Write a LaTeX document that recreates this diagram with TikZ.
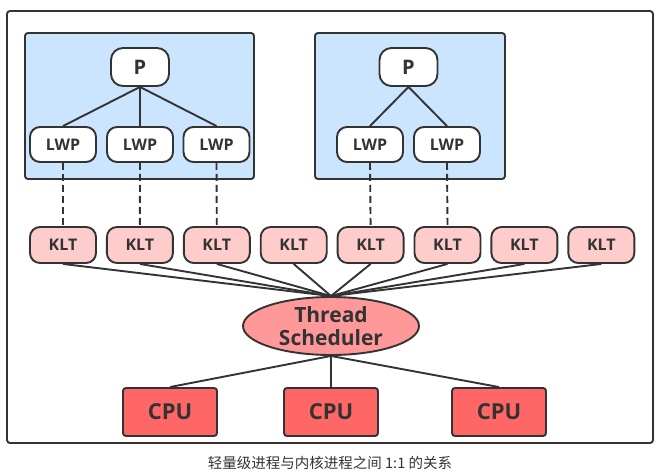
\documentclass[tikz,border=0pt]{standalone}
\usepackage{fontspec}
\setmainfont{Open Sans}
\newfontfamily\cjkfont{Noto Sans CJK SC}
\usepackage{xcolor}
\usetikzlibrary{shapes,arrows,positioning,backgrounds,fit}

\definecolor{linegray}{HTML}{333333}
\definecolor{procblue}{HTML}{CCE5FF}
\definecolor{kltpink}{HTML}{FFCCCC}
\definecolor{schedred}{HTML}{FF9999}
\definecolor{cpured}{HTML}{FF6666}

\tikzset{
    procbox/.style={draw=linegray, fill=procblue, rounded corners=3pt},
    proc/.style={draw=linegray, fill=white, rounded corners=12pt, inner sep=0pt,
        minimum width=58pt, minimum height=38pt, text=linegray,
        font=\bfseries\fontsize{20}{22}\selectfont},
    lwp/.style={draw=linegray, fill=white, rounded corners=10pt, inner sep=0pt,
        minimum width=66pt, minimum height=35pt, text=linegray,
        font=\bfseries\fontsize{16}{18}\selectfont},
    klt/.style={draw=linegray, fill=kltpink, rounded corners=10pt, inner sep=0pt,
        minimum width=66pt, minimum height=36pt, text=linegray,
        font=\bfseries\fontsize{16}{18}\selectfont},
    sched/.style={draw=linegray, fill=schedred, ellipse, inner sep=0pt,
        minimum width=176pt, minimum height=58pt, text=linegray, align=center,
        font=\bfseries\fontsize{21}{23}\selectfont},
    cpu/.style={draw=linegray, fill=cpured, rounded corners=3pt, inner sep=0pt,
        minimum width=94pt, minimum height=48pt, text=linegray,
        font=\bfseries\fontsize{22}{24}\selectfont},
    link/.style={draw=linegray},
    maplink/.style={draw=linegray, dash pattern=on 7pt off 4pt}
}

\begin{document}
\begin{tikzpicture}[x=1pt, y=-1pt, line width=1.9pt]
    \useasboundingbox (0,0) rectangle (667,476);
    \begin{scope}
        % Outer frame
        \draw [linegray, rounded corners=3pt] (7,11) rectangle (653,443);

        % Process boxes
        \draw [procbox] (25,33) rectangle (254,179);
        \draw [procbox] (315,33) rectangle (505,179);

        % Processes and their light weight processes
        \node [proc] (p1) at (140,67) {P};
        \node [proc] (p2) at (408.5,67) {P};
        \foreach \i/\x in {1/63,2/140,3/216.5,4/370,5/447} {
            \node [lwp] (lwp\i) at (\x,144.5) {LWP};
        }

        % Kernel level threads
        \foreach \i in {1,...,8} {
            \node [klt] (klt\i) at ({63+(\i-1)*76.9},245) {KLT};
        }

        % Scheduler and CPUs
        \node [sched] (sched) at (331,326) {Thread\\Scheduler};
        \foreach \i/\x in {1/170,2/331,3/499} {
            \node [cpu] (cpu\i) at (\x,412) {CPU};
        }

        % Connections
        \foreach \i in {1,2,3} {
            \draw [link] (p1.south) -- (lwp\i.north);
        }
        \foreach \i in {4,5} {
            \draw [link] (p2.south) -- (lwp\i.north);
        }
        \foreach \l/\k in {1/1,2/2,3/3,4/5,5/6} {
            \draw [maplink] (lwp\l.south) -- (klt\k.north);
        }
        \foreach \i in {1,...,8} {
            \draw [link] (klt\i.south) -- (sched.north);
        }
        \foreach \i in {1,2,3} {
            \draw [link] (sched.south) -- (cpu\i.north);
        }

        % Caption
        \node [text=linegray, font=\cjkfont\fontsize{14.5}{16}\selectfont] (caption) at (330,463)
            {轻量级进程与内核进程之间 1:1 的关系};
    \end{scope}
\end{tikzpicture}
\end{document}
